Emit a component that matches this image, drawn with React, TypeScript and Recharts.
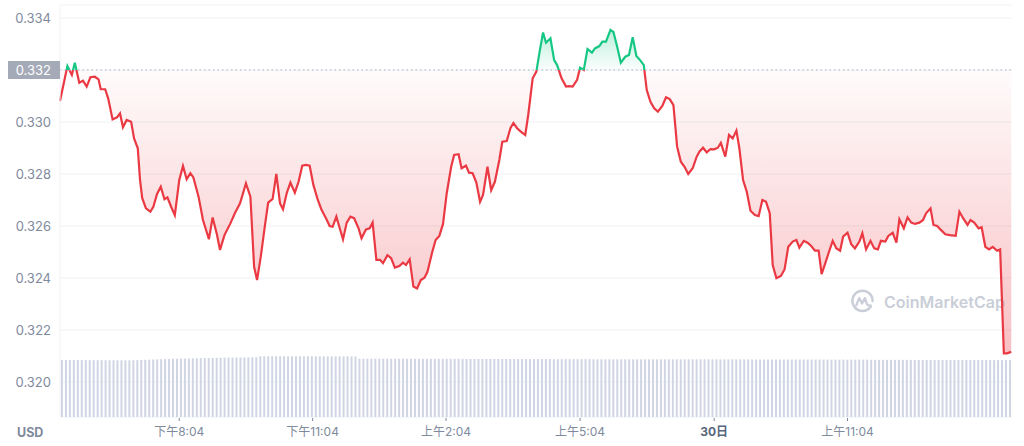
import React from 'react';
import { ComposedChart, Area, XAxis, YAxis, CartesianGrid, ReferenceLine, BarChart, Bar } from 'recharts';

// minutes since the first sample (~17:23)
const TIMES = [
  0, 10, 16, 20, 26, 31, 36, 41, 47, 52,
  55, 61, 65, 71, 77, 81, 85, 90, 96, 100,
  105, 108, 111, 116, 122, 126, 131, 136, 141, 145,
  150, 155, 161, 166, 171, 176, 180, 187, 193, 201,
  206, 212, 216, 222, 230, 236, 243, 251, 257, 262,
  266, 271, 277, 281, 287, 292, 297, 301, 306, 311,
  317, 322, 327, 332, 337, 342, 348, 353, 359, 364,
  368, 373, 377, 382, 387, 392, 397, 403, 407, 413,
  418, 422, 427, 432, 436, 442, 447, 452, 458, 463,
  467, 472, 477, 482, 487, 492, 496, 502, 507, 512,
  517, 522, 528, 532, 538, 542, 548, 552, 557, 562,
  567, 571, 577, 582, 587, 593, 597, 603, 608, 612,
  617, 622, 628, 632, 638, 643, 647, 652, 656, 662,
  667, 671, 677, 683, 687, 692, 698, 702, 707, 712,
  718, 722, 728, 732, 737, 743, 747, 752, 757, 763,
  768, 773, 778, 783, 788, 792, 797, 802, 807, 813,
  818, 823, 828, 833, 838, 843, 848, 854, 859, 863,
  868, 873, 878, 883, 888, 892, 898, 903, 908, 913,
  917, 922, 927, 932, 938, 943, 948, 953, 958, 962,
  967, 973, 978, 983, 989, 994, 998, 1004, 1009, 1014,
  1019, 1024, 1028, 1033, 1038, 1043, 1048, 1053, 1057, 1063,
  1068, 1073, 1079, 1083, 1088, 1094, 1099, 1104, 1108, 1114,
  1118, 1124, 1129, 1133, 1139, 1144, 1149, 1154, 1160, 1165,
  1169, 1175, 1179, 1184, 1189, 1195, 1201, 1209, 1214, 1219,
  1225, 1229, 1234, 1240, 1244, 1249, 1254, 1259, 1265, 1269,
  1274, 1278, 1284,
];

const PRICES = [
  0.33081, 0.33215, 0.33181, 0.33228, 0.33151, 0.33159, 0.33136, 0.33172, 0.33174, 0.33164,
  0.33126, 0.33126, 0.33091, 0.3301, 0.33018, 0.33033, 0.3298, 0.33008, 0.33001, 0.32937,
  0.32899, 0.32777, 0.32707, 0.32668, 0.32655, 0.32674, 0.32723, 0.32751, 0.32703, 0.3271,
  0.32674, 0.32642, 0.32777, 0.32831, 0.3278, 0.32803, 0.32787, 0.32713, 0.32623, 0.32549,
  0.32633, 0.32565, 0.32508, 0.32565, 0.3261, 0.32649, 0.32687, 0.32764, 0.32713, 0.32443,
  0.32392, 0.32482, 0.3261, 0.3269, 0.32704, 0.328, 0.32687, 0.32664, 0.32726, 0.32767,
  0.32728, 0.3277, 0.32832, 0.32835, 0.32832, 0.32758, 0.327, 0.32662, 0.3263, 0.326,
  0.32597, 0.32636, 0.32597, 0.32549, 0.32613, 0.32636, 0.3263, 0.32591, 0.32553, 0.32587,
  0.32591, 0.32613, 0.3247, 0.3247, 0.32457, 0.32488, 0.32476, 0.3244, 0.32446, 0.32459,
  0.3245, 0.32472, 0.32367, 0.3236, 0.32392, 0.32401, 0.32424, 0.32495, 0.32546, 0.32562,
  0.32608, 0.32726, 0.32828, 0.32873, 0.32876, 0.32822, 0.32832, 0.32805, 0.32803, 0.32767,
  0.32693, 0.32719, 0.32828, 0.32738, 0.3277, 0.32854, 0.32924, 0.32927, 0.32976, 0.32996,
  0.32976, 0.32963, 0.3295, 0.33027, 0.33168, 0.33194, 0.33264, 0.33344, 0.33305, 0.33322,
  0.33238, 0.33219, 0.33168, 0.33136, 0.33138, 0.33136, 0.33162, 0.33209, 0.332, 0.33281,
  0.33267, 0.33283, 0.33292, 0.33309, 0.33309, 0.33354, 0.33346, 0.3329, 0.33228, 0.33251,
  0.33258, 0.33326, 0.33254, 0.33238, 0.33219, 0.33123, 0.33078, 0.33053, 0.3304, 0.33062,
  0.33095, 0.33088, 0.33065, 0.32905, 0.32847, 0.32828, 0.328, 0.32822, 0.32864, 0.32886,
  0.32901, 0.32883, 0.32896, 0.32895, 0.32901, 0.3292, 0.32867, 0.3295, 0.32937, 0.32967,
  0.32899, 0.32777, 0.32732, 0.32659, 0.32642, 0.32638, 0.327, 0.32693, 0.32649, 0.3245,
  0.32399, 0.32408, 0.32433, 0.3252, 0.3254, 0.32546, 0.32517, 0.32543, 0.32536, 0.32523,
  0.32505, 0.32505, 0.32415, 0.32457, 0.32501, 0.32543, 0.32514, 0.32505, 0.32559, 0.32574,
  0.3253, 0.32514, 0.3254, 0.32572, 0.3251, 0.32543, 0.32514, 0.3251, 0.32543, 0.3254,
  0.32562, 0.32574, 0.32536, 0.32626, 0.32591, 0.32633, 0.32613, 0.32608, 0.32613, 0.32623,
  0.32649, 0.32668, 0.32604, 0.326, 0.32585, 0.32568, 0.32565, 0.32562, 0.32655, 0.3263,
  0.32604, 0.32623, 0.32613, 0.32591, 0.32595, 0.3252, 0.3251, 0.3252, 0.32505, 0.3251,
  0.3211, 0.3211, 0.32116,
];

// 24h volume (relative units), one bar per slot
const VOLUME = [
  66.4, 66.4, 66.5, 66.4, 66.4, 66.3, 66.3, 66.3, 66.2, 66.2, 66.2, 66.1, 66.1, 66.1, 66.0, 66.0, 66.0, 66.0,
  66.1, 66.2, 66.4, 66.6, 66.8, 67.0, 67.2, 67.3, 67.5, 67.6, 67.8, 67.9, 68.0, 68.1, 68.2, 68.3,
  68.4, 68.5, 68.6, 68.7, 68.8, 68.9, 69.0, 69.1, 69.2, 69.2, 69.3, 69.3, 69.4, 69.4, 69.5, 69.5,
  70.8, 70.8, 70.8, 70.8, 70.8, 70.8, 70.7, 70.7, 70.7, 70.7, 70.7, 70.7, 70.7, 70.7, 70.7,
  70.6, 70.6, 70.6, 70.6, 70.6, 70.6, 70.6, 70.6, 70.5, 70.5,
  67.9, 67.9, 67.9, 67.9, 67.9, 67.8, 67.8, 67.8, 67.8, 67.8, 67.8, 67.8, 67.8, 67.8, 67.8,
  67.7, 67.7, 67.7, 67.7, 67.7, 67.7, 67.7, 67.7, 67.7, 67.7, 67.7, 67.7,
  67.6, 67.6, 67.6, 67.6, 67.6, 67.6, 67.6, 67.6, 67.6, 67.6, 67.6, 67.6,
  67.5, 67.5, 67.5, 67.5, 67.5, 67.5, 67.5, 67.5, 67.5, 67.5,
  67.4, 67.4, 67.4, 67.4, 67.4, 67.4, 67.4, 67.4, 67.4, 67.4,
  67.3, 67.3, 67.3, 67.3, 67.3, 67.3, 67.3, 67.3, 67.3, 67.3,
  67.2, 67.2, 67.2, 67.2, 67.2, 67.2, 67.2, 67.2, 67.2, 67.2,
  67.2, 67.2, 67.2, 67.2, 67.2, 67.2, 67.2, 67.2, 67.2, 67.2,
  67.1, 67.1, 67.1, 67.1, 67.1, 67.1, 67.1, 67.1, 67.1, 67.1,
  67.0, 67.0, 67.0, 67.0, 67.0, 67.0, 67.0, 67.0, 67.0, 67.0,
  66.9, 66.9, 66.9, 66.9, 66.9, 66.9, 66.9, 66.9, 66.9, 66.9,
  66.8, 66.8, 66.8, 66.8, 66.8, 66.8, 66.8, 66.8, 66.8, 66.8,
  66.6, 66.6, 66.6, 66.6, 66.6, 66.6, 66.6, 66.6, 66.6, 66.6,
  66.5, 66.5, 66.5, 66.5, 66.5, 66.5, 66.5, 66.5, 66.5, 66.5,
  66.4, 66.4, 66.4, 66.4, 66.4, 66.4, 66.4, 66.4, 66.4, 66.4,
  66.3, 66.3, 66.3, 66.3, 66.3, 66.3,
];

const Y_TICKS = [0.32, 0.322, 0.324, 0.326, 0.328, 0.33, 0.332, 0.334];
const TICK_TIMES = [161, 341, 521, 702, 883, 1063];
const TICK_LABELS = ['下午8:04', '下午11:04', '上午2:04', '上午5:04', '30日', '上午11:04'];
const REF = 0.332;

const W = 1024;
const H = 446;
const FONT = "Inter, 'Noto Sans CJK SC', sans-serif";
const RED = '#ea3943';
const GREEN = '#16c784';

const priceData = TIMES.map((t, i) => ({ t, price: PRICES[i] })).filter((d) => d.price !== undefined);
const volumeData = VOLUME.map((v, i) => ({ i, v }));

const pMax = Math.max(...priceData.map((d) => d.price));
const pMin = Math.min(...priceData.map((d) => d.price));
const off = (pMax - REF) / (pMax - pMin);

const YTick = (props: any) => {
  const { y, payload } = props;
  const v = payload.value as number;
  const label = v.toFixed(3);
  if (Math.abs(v - REF) < 1e-9) {
    return (
      <g>
        <rect x={8} y={y - 9} width={52} height={18} fill="#a4aab7" />
        <text x={51} y={y} textAnchor="end" dominantBaseline="central" fill="#ffffff" fontSize={13} fontFamily={FONT}>
          {label}
        </text>
      </g>
    );
  }
  return (
    <text x={51} y={y} textAnchor="end" dominantBaseline="central" fill="#808a9d" fontSize={13} fontFamily={FONT}>
      {label}
    </text>
  );
};

const XTick = (props: any) => {
  const { x, payload } = props;
  const idx = TICK_TIMES.indexOf(payload.value);
  const label = TICK_LABELS[idx] ?? '';
  const bold = label === '30日';
  return (
    <g>
      <line x1={x} x2={x} y1={418} y2={421} stroke="#808a9d" strokeWidth={1} />
      <text
        x={x}
        y={436}
        textAnchor="middle"
        fontSize={12}
        fontWeight={bold ? 700 : 400}
        fill={bold ? '#58667e' : '#808a9d'}
        fontFamily={FONT}
      >
        {label}
      </text>
    </g>
  );
};

const Logo = () => (
  <svg width={25} height={25} viewBox="0 0 26 26">
    <path d="M21.5 18.5 A10.5 10.5 0 1 1 23.5 12.5" fill="none" stroke="#c9ced8" strokeWidth={2.6} strokeLinecap="round" />
    <path d="M6.5 17 L9.5 9.5 L12.5 15 L15.5 9.5 L17.5 15.5 Q18.5 18 21.5 17" fill="none" stroke="#c9ced8" strokeWidth={2.4} strokeLinejoin="round" strokeLinecap="round" />
  </svg>
);

export default function App() {
  return (
    <div style={{ position: 'absolute', left: 0, top: 0, width: W, height: H, background: '#ffffff', overflow: 'hidden' }}>
      <div
        style={{
          position: 'absolute',
          left: 850,
          top: 289,
          display: 'flex',
          alignItems: 'center',
          gap: 9,
          fontFamily: FONT,
          fontSize: 16,
          fontWeight: 600,
          color: '#c9ced8',
        }}
      >
        <Logo />
        <span>CoinMarketCap</span>
      </div>
      <div style={{ position: 'absolute', left: 0, top: 0 }}>
        <ComposedChart width={W} height={H} data={priceData} margin={{ top: 5, right: 12, left: 0, bottom: 0 }}>
          <defs>
            <linearGradient id="lineGrad" x1="0" y1="0" x2="0" y2="1">
              <stop offset={0} stopColor={GREEN} />
              <stop offset={off} stopColor={GREEN} />
              <stop offset={off} stopColor={RED} />
              <stop offset={1} stopColor={RED} />
            </linearGradient>
            <linearGradient id="fillGrad" x1="0" y1="0" x2="0" y2="1">
              <stop offset={0} stopColor={GREEN} stopOpacity={0.28} />
              <stop offset={off} stopColor={GREEN} stopOpacity={0.02} />
              <stop offset={off} stopColor={RED} stopOpacity={0.02} />
              <stop offset={1} stopColor={RED} stopOpacity={0.32} />
            </linearGradient>
          </defs>
          <CartesianGrid vertical={false} stroke="#eff2f5" />
          <XAxis
            dataKey="t"
            type="number"
            domain={[0, 1285]}
            ticks={TICK_TIMES}
            height={29}
            axisLine={false}
            tickLine={false}
            tick={<XTick />}
            interval={0}
          />
          <YAxis
            type="number"
            domain={[0.318654, 0.3345]}
            ticks={Y_TICKS}
            allowDataOverflow
            width={60}
            axisLine={{ stroke: '#eff2f5' }}
            tickLine={false}
            tick={<YTick />}
            interval={0}
          />
          <Area
            type="linear"
            dataKey="price"
            baseValue={REF}
            stroke="url(#lineGrad)"
            strokeWidth={2.2}
            fill="url(#fillGrad)"
            fillOpacity={1}
            dot={false}
            activeDot={false}
            isAnimationActive={false}
          />
          <ReferenceLine y={REF} stroke="#a6b0c3" strokeDasharray="1.5 3" strokeWidth={1} />
        </ComposedChart>
      </div>
      <div style={{ position: 'absolute', left: 0, top: 0 }}>
        <BarChart width={W} height={H} data={volumeData} margin={{ top: 5, right: 12, left: 60, bottom: 29 }} barCategoryGap="24%">
          <XAxis dataKey="i" hide />
          <YAxis type="number" domain={[0, 480]} hide />
          <Bar dataKey="v" fill="#cfd5e3" isAnimationActive={false} />
        </BarChart>
      </div>
      <div
        style={{
          position: 'absolute',
          left: 17,
          top: 425,
          fontFamily: FONT,
          fontSize: 12.5,
          fontWeight: 700,
          color: '#808a9d',
        }}
      >
        USD
      </div>
    </div>
  );
}
